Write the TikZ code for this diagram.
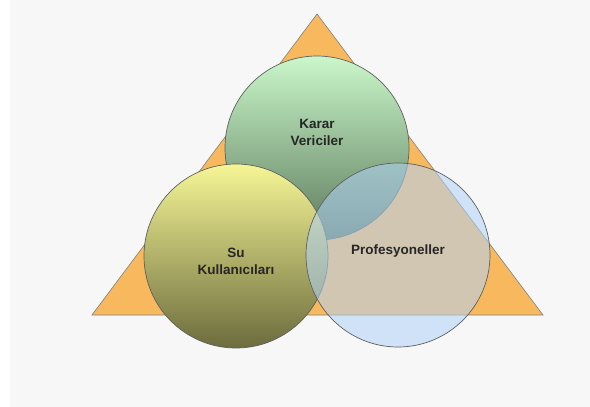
\documentclass[tikz,border=0pt]{standalone}
\usepackage{fontspec}
\setmainfont{Liberation Sans}
\usetikzlibrary{positioning}
\definecolor{pagebg}{RGB}{247,247,247}
\definecolor{triorange}{RGB}{248,184,94}
\definecolor{edgegray}{RGB}{95,95,95}
\definecolor{greentop}{RGB}{202,247,202}
\definecolor{greenbot}{RGB}{92,122,92}
\definecolor{yellowtop}{RGB}{246,246,150}
\definecolor{yellowbot}{RGB}{108,108,62}
\definecolor{problue}{RGB}{176,210,248}

\begin{document}
\begin{tikzpicture}[x=1pt, y=-1pt,
                    set/.style={circle, draw=edgegray, line width=.7pt, minimum size=184pt, inner sep=0pt},
                    setname/.style={font=\bfseries\fontsize{13.5}{17}\selectfont, align=center, text=black!85}]
    \useasboundingbox (0,0) rectangle (590,407);
    \fill[white] (0,0) rectangle (590,407);
    \fill[pagebg] (10,0) rectangle (590,407);

    % triangle behind the three sets
    \coordinate (apex) at (317,14);
    \coordinate (baseleft) at (92,315);
    \coordinate (baseright) at (543,315);
    \draw[fill=triorange, draw=gray, line width=.6pt] (apex) -- (baseleft) -- (baseright) -- cycle;

    \node[set, top color=greentop, bottom color=greenbot] (karar) at (317,148) {};
    \node[set, top color=yellowtop, bottom color=yellowbot] (su) at (236,256) {};
    \node[set, fill=problue, fill opacity=.55] (prof) at (398,255) {};

    \node[setname] (kararname) at ([yshift=16pt]karar.center) {Karar\\Vericiler};
    \node[setname] (suname) at ([yshift=-5pt]su.center) {Su\\Kullanıcıları};
    \node[setname] (profname) at ([yshift=4pt]prof.center) {Profesyoneller};
\end{tikzpicture}
\end{document}
